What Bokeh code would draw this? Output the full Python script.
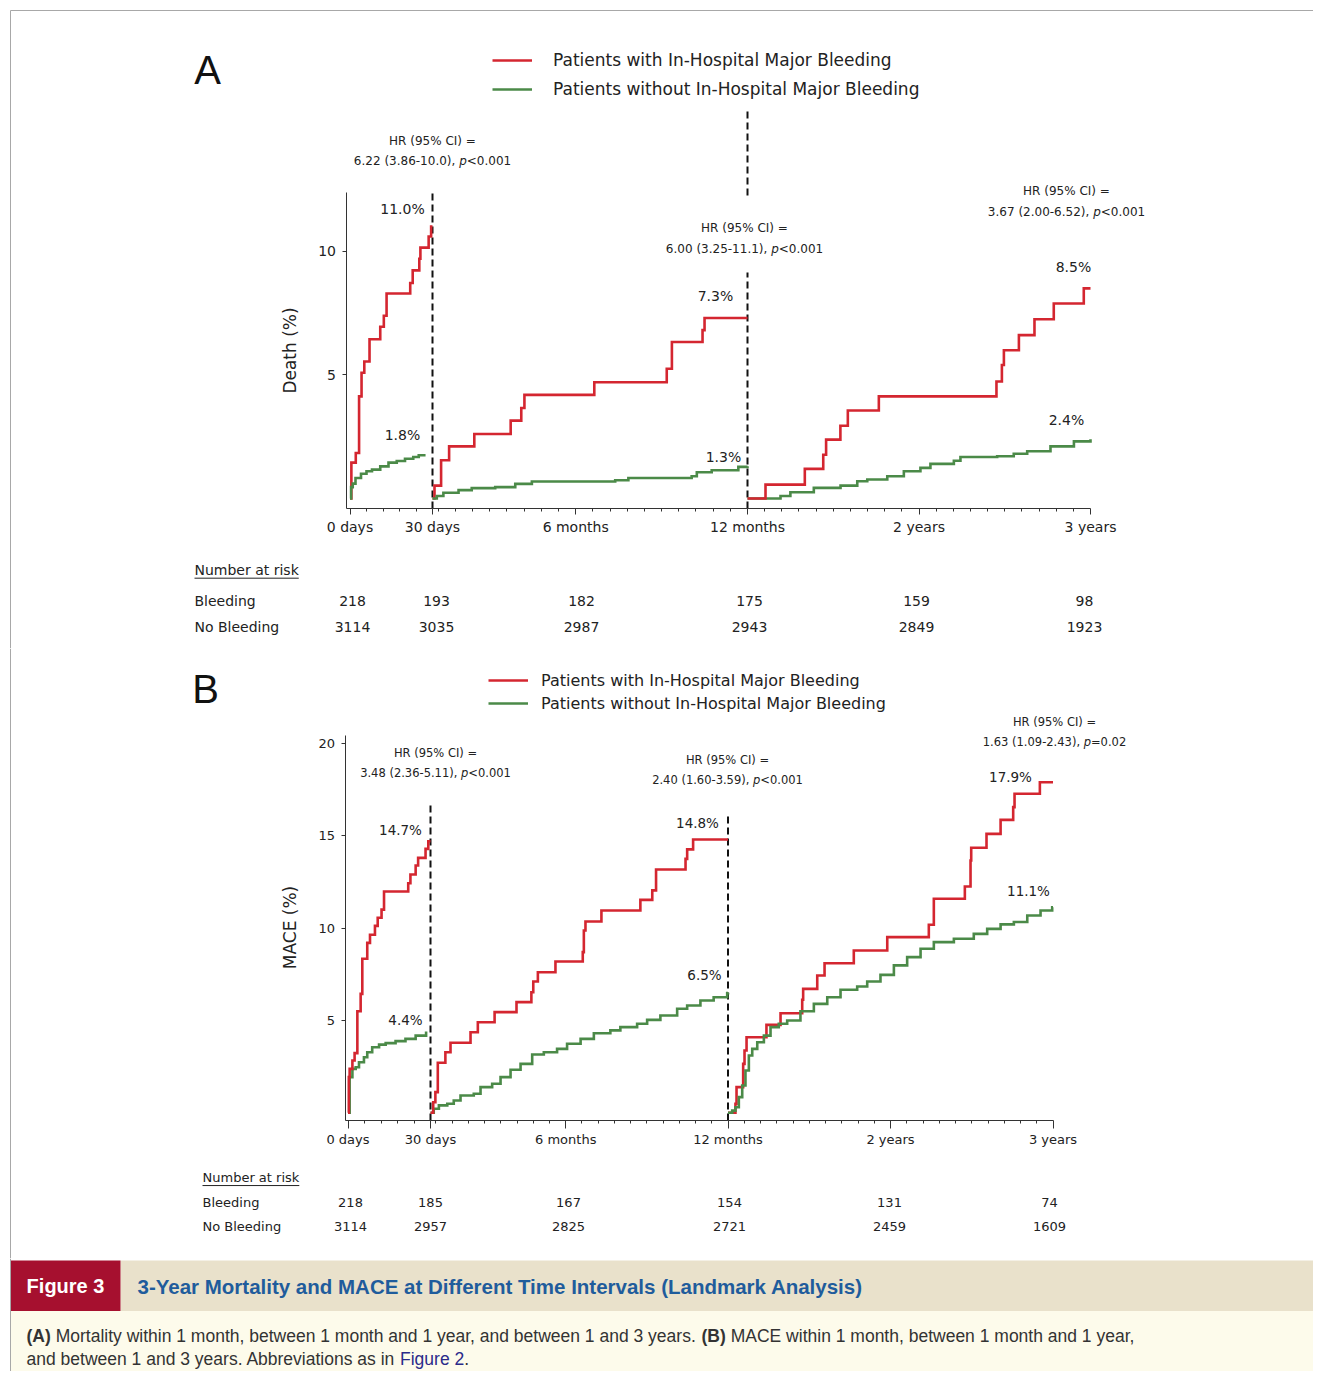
import math
from bokeh.plotting import figure
from bokeh.models import Range1d, LinearAxis, FixedTicker, Legend, LegendItem
from bokeh.layouts import column
from bokeh.embed import file_html
from bokeh.resources import INLINE
from bokeh.core.properties import value

# ---------------- data (cumulative event rate, %) ----------------
# Panel A: death
A_bleed_0_30_days = [0, 0.5, 2.1, 3.3, 4.2, 5.2, 7.1, 11.0, 12.3, 13.3, 21.9, 22.8, 25.2, 25.6, 28.6, 29.5, 30]
A_bleed_0_30_pct = [0, 1.45, 1.84, 4.13, 5.09, 5.54, 6.44, 6.95, 7.39, 8.29, 8.72, 9.23, 9.70, 10.15, 10.6, 11.0, 11.0]
A_nobleed_0_30_days = [0, 0.4, 1, 2, 4, 6, 8, 11, 14, 17, 20, 23, 25, 27]
A_nobleed_0_30_pct = [0, 0.46, 0.6, 0.83, 1.0, 1.1, 1.17, 1.3, 1.45, 1.52, 1.61, 1.68, 1.75, 1.8]

A_bleed_1_12_mo = [1, 1.07, 1.30, 1.58, 2.46, 3.73, 4.10, 4.21, 6.65, 9.18, 9.36, 10.43, 10.50, 12]
A_bleed_1_12_pct = [0, 0.52, 1.55, 2.11, 2.61, 3.15, 3.66, 4.19, 4.70, 5.25, 6.33, 6.81, 7.3, 7.3]
A_nobleed_1_12_mo = [1, 1.15, 1.38, 1.91, 2.37, 3.19, 3.89, 4.47, 7.38, 7.84, 10.05, 10.23, 10.75, 11.68, 12]
A_nobleed_1_12_pct = [0, 0.1, 0.23, 0.34, 0.42, 0.46, 0.59, 0.69, 0.74, 0.83, 0.9, 1.06, 1.14, 1.28, 1.3]

A_bleed_12_36_mo = [12, 13.26, 16.01, 17.3, 17.5, 18.5, 19.02, 21.19, 29.42, 29.8, 29.94, 30.99, 32.08, 33.43, 35.53, 36]
A_bleed_12_36_pct = [0, 0.56, 1.2, 1.77, 2.38, 2.94, 3.56, 4.13, 4.73, 5.4, 6.0, 6.61, 7.25, 7.89, 8.5, 8.5]
A_nobleed_12_36_mo = [12, 14.31, 15.0, 16.64, 18.51, 19.68, 20.38, 21.78, 22.94, 24.1, 24.8, 26.44, 26.9, 29.47, 30.63, 31.57, 33.2, 34.84, 36]
A_nobleed_12_36_pct = [0, 0.1, 0.25, 0.43, 0.52, 0.70, 0.77, 0.90, 1.1, 1.24, 1.4, 1.53, 1.68, 1.71, 1.81, 1.91, 2.11, 2.31, 2.4]

# Panel B: MACE
B_bleed_0_30_days = [0, 0.3, 0.6, 1.6, 2.4, 3.4, 4.6, 5.2, 7.0, 8.0, 9.8, 10.8, 12.2, 13.1, 21.9, 22.7, 24.6, 25.5, 28.2, 29.2, 30]
B_bleed_0_30_pct = [0, 1.93, 2.38, 2.83, 3.23, 5.5, 6.44, 8.34, 9.2, 9.64, 10.12, 10.56, 11.0, 11.98, 12.43, 12.9, 13.39, 13.8, 14.29, 14.7, 14.7]
B_nobleed_0_30_days = [0, 0.6, 1.6, 2.8, 4.0, 5.8, 7.0, 8.8, 11.3, 13.7, 17.3, 20.9, 24.6, 28.4]
B_nobleed_0_30_pct = [0, 1.93, 2.38, 2.47, 2.74, 3.01, 3.28, 3.55, 3.69, 3.77, 3.88, 4.0, 4.18, 4.4]

B_bleed_1_12_mo = [1, 1.10, 1.18, 1.27, 1.55, 1.74, 2.48, 2.75, 3.37, 4.18, 4.73, 4.80, 4.97, 5.62, 6.63, 6.67, 6.73, 7.32, 8.76, 9.2, 9.34, 10.43, 10.49, 10.71, 12]
B_bleed_1_12_pct = [0, 0.57, 1.12, 2.71, 3.28, 3.79, 4.36, 4.9, 5.45, 5.99, 6.53, 7.11, 7.61, 8.19, 8.7, 9.87, 10.36, 10.95, 11.53, 12.04, 13.17, 13.75, 14.26, 14.8, 14.8]
B_nobleed_1_12_mo = [1, 1.12, 1.31, 1.62, 1.86, 2.11, 2.60, 2.85, 3.28, 3.59, 3.96, 4.33, 4.76, 5.19, 5.68, 6.05, 6.55, 7.04, 7.65, 8.02, 8.64, 9.01, 9.50, 10.12, 10.49, 10.98, 11.47, 11.97, 12]
B_nobleed_1_12_pct = [0, 0.22, 0.4, 0.49, 0.67, 0.94, 1.03, 1.39, 1.57, 1.93, 2.33, 2.65, 3.16, 3.28, 3.46, 3.74, 4.0, 4.31, 4.46, 4.64, 4.82, 5.03, 5.27, 5.63, 5.81, 6.08, 6.26, 6.48, 6.5]

B_bleed_12_36_mo = [12, 12.55, 12.63, 13.12, 13.22, 13.37, 14.84, 15.88, 17.48, 17.55, 18.59, 19.13, 21.29, 23.76, 26.83, 27.2, 29.49, 29.91, 29.96, 31.09, 32.13, 33.06, 33.16, 35.03, 36]
B_bleed_12_36_pct = [0, 0.49, 1.39, 2.65, 3.37, 4.09, 4.76, 5.39, 6.12, 6.71, 7.43, 8.1, 8.79, 9.51, 10.18, 11.59, 12.25, 13.66, 14.35, 15.1, 15.86, 16.55, 17.27, 17.9, 17.9]
B_nobleed_12_36_mo = [12, 12.31, 12.55, 12.8, 13.05, 13.29, 13.54, 13.79, 14.16, 14.65, 15.14, 15.75, 16.37, 17.35, 18.34, 19.33, 20.31, 21.54, 22.28, 23.26, 24.25, 25.23, 26.22, 27.2, 28.68, 30.15, 31.14, 32.13, 33.11, 34.1, 35.08, 35.94, 36]
B_nobleed_12_36_pct = [0, 0.12, 0.3, 0.85, 1.48, 2.29, 3.1, 3.46, 3.82, 4.18, 4.64, 4.82, 5.0, 5.5, 5.9, 6.26, 6.66, 6.84, 7.11, 7.47, 7.98, 8.43, 8.88, 9.24, 9.42, 9.69, 9.96, 10.2, 10.33, 10.68, 10.95, 11.13, 11.13]

# Number at risk
RISK_LABELS = ["Bleeding", "No Bleeding"]
A_risk_bleed = [218, 193, 182, 175, 159, 98]
A_risk_nobleed = [3114, 3035, 2987, 2943, 2849, 1923]
B_risk_bleed = [218, 185, 167, 154, 131, 74]
B_risk_nobleed = [3114, 2957, 2825, 2721, 2459, 1609]

# Hazard ratios per interval
A_hr = ["6.22 (3.86-10.0)", "6.00 (3.25-11.1)", "3.67 (2.00-6.52)"]
A_p = ["<0.001", "<0.001", "<0.001"]
B_hr = ["3.48 (2.36-5.11)", "2.40 (1.60-3.59)", "1.63 (1.09-2.43)"]
B_p = ["<0.001", "<0.001", "=0.02"]

# End-of-interval labels
A_end_labels = ["11.0%", "1.8%", "7.3%", "1.3%", "8.5%", "2.4%"]
B_end_labels = ["14.7%", "4.4%", "14.8%", "6.5%", "17.9%", "11.1%"]

LEG_BLEED = "Patients with In-Hospital Major Bleeding"
LEG_NOBLEED = "Patients without In-Hospital Major Bleeding"

# ---------------- style ----------------
RED = "#d42630"
GREEN = "#4b8a48"
TXT = "#222222"
AX = "#333333"
DV = "DejaVu Sans"
LS = "Liberation Sans"
OFF = 0
W = 1313
HA, HB, HC = 648, 610, 113

DV_W = {"0": .636, "1": .636, "2": .636, "3": .636, "4": .636, "5": .636, "6": .636, "7": .636,
        "8": .636, "9": .636, ".": .318, ",": .318, " ": .318, "(": .390, ")": .390, "-": .361,
        "<": .838, "=": .838, "p": .635}


def dv_width(s, size):
    return sum(DV_W.get(c, 0.6) for c in s) * size


AR = {" ": 278, "(": 333, ")": 333, ",": 278, "-": 333, ".": 278, "A": 667, "B": 667, "C": 722,
      "D": 722, "E": 667, "F": 611, "G": 778, "H": 722, "I": 278, "M": 833, "N": 722, "O": 778,
      "P": 667, "R": 722, "S": 667, "T": 611, "a": 556, "b": 556, "c": 500, "d": 556, "e": 556,
      "f": 278, "g": 556, "h": 556, "i": 222, "j": 222, "k": 500, "l": 222, "m": 833, "n": 556,
      "o": 556, "p": 556, "q": 556, "r": 333, "s": 500, "t": 278, "u": 556, "v": 500, "w": 722,
      "x": 500, "y": 500, "z": 500}
ARB = {"(": 333, ")": 333, "A": 722, "B": 722, " ": 278}


def ar_width(s, size, bold=False):
    tot = 0
    for c in s:
        if c.isdigit():
            tot += 556
        elif bold and c in ARB:
            tot += ARB[c]
        else:
            tot += AR.get(c, 556)
    return tot / 1000.0 * size


SEG2_MINOR = [round(12 - 0.6 * k, 2) for k in range(1, 19) if k != 10]
SEG3_MINOR = [round(12 + 1.2 * k, 2) for k in range(1, 20) if k != 10]


def build_panel(cfg, curves, letter, ylabel, hr, pv, hr_pos, end_labels, end_pos,
                risk, risk_x, risk_Y, nar_pos, legend_cfg):
    Y0, ppu, top, h = cfg["Y0"], cfg["ppu"], cfg["top"], cfg["h"]
    X0, X1, X12, X36 = cfg["X0"], cfg["X1"], cfg["X12"], cfg["X36"]

    def yv(Y):
        return (Y0 - Y) / ppu

    p = figure(width=W, height=h, output_backend="svg", toolbar_location=None,
               x_range=Range1d(OFF, OFF + W), y_range=Range1d(yv(top + h), yv(top)),
               x_axis_type=None, y_axis_type=None, min_border=0,
               outline_line_color=None, background_fill_color="white",
               border_fill_color="white")

    def lin(xa, va, xb, vb):
        k = (vb - va) / (xb - xa)
        return Range1d(start=va + (OFF - xa) * k, end=va + (OFF + W - xa) * k)

    p.extra_x_ranges = {"days": lin(X0, 0, X1, 30), "m1": lin(X1, 1, X12, 12),
                        "m2": lin(X12, 12, X36, 36)}

    fs = cfg["fs"]
    st = dict(axis_line_color=AX, major_tick_line_color=AX, minor_tick_line_color=AX,
              major_tick_in=0, major_tick_out=cfg["tick_out"], minor_tick_in=0, minor_tick_out=3,
              major_label_text_font=DV, major_label_text_font_size=f"{fs}px",
              major_label_text_color=TXT, major_label_standoff=4)
    loc = yv(cfg["axY"])
    d_left = (cfg["yx"] - X0) * 30 / (X1 - X0)
    p.add_layout(LinearAxis(x_range_name="days", fixed_location=loc, bounds=(d_left, 30),
                            ticker=FixedTicker(ticks=[0, 30], minor_ticks=[6, 12, 18, 24]),
                            major_label_overrides={0: "0 days", 30: "30 days"}, **st), "below")
    p.add_layout(LinearAxis(x_range_name="m1", fixed_location=loc, bounds=(1, 12),
                            ticker=FixedTicker(ticks=[6], minor_ticks=SEG2_MINOR),
                            major_label_overrides={6: "6 months"}, **st), "below")
    p.add_layout(LinearAxis(x_range_name="m2", fixed_location=loc, bounds=(12, 36),
                            ticker=FixedTicker(ticks=[12, 24, 36], minor_ticks=SEG3_MINOR),
                            major_label_overrides={12: "12 months", 24: "2 years", 36: "3 years"},
                            **st), "below")
    sty = dict(st)
    sty.update(major_tick_out=4, major_label_standoff=6)
    p.add_layout(LinearAxis(fixed_location=cfg["yx"], bounds=(loc, yv(cfg["ytopY"])),
                            ticker=FixedTicker(ticks=cfg["yticks"]), **sty), "left")

    # border lines of the figure page
    p.segment(x0=[10, 10], y0=[yv(10), yv(max(top, 10))], x1=[1329, 10], y1=[yv(10), yv(top + h)],
              line_color="#a8a8a8", line_width=1)

    # landmark dashed lines
    for rng, xv, pieces in cfg["dash"]:
        p.segment(x0=[xv] * len(pieces), x1=[xv] * len(pieces),
                  y0=[yv(a) for a, b in pieces], y1=[yv(b) for a, b in pieces],
                  x_range_name=rng, line_color="#111111", line_width=2, line_dash="7 4")

    # curves
    rr, rg = None, None
    for rng, xs, ys, col in curves:
        r = p.step(x=xs, y=ys, mode="after", x_range_name=rng, line_color=col,
                   line_width=2.6, line_join="miter")
        if col == RED and rr is None:
            rr = r
        if col == GREEN and rg is None:
            rg = r

    # legend
    lx, ly, lfs, gh, sp, stoff = legend_cfg
    leg = Legend(items=[LegendItem(label=LEG_BLEED, renderers=[rr]),
                        LegendItem(label=LEG_NOBLEED, renderers=[rg])],
                 location=(lx, ly), orientation="vertical", glyph_width=40, glyph_height=gh,
                 spacing=sp, label_standoff=stoff, padding=0, margin=0,
                 border_line_color=None, background_fill_alpha=0,
                 label_text_font=DV, label_text_font_size=f"{lfs}px", label_text_color=TXT,
                 label_height=gh)
    p.add_layout(leg)

    # panel letter and y label
    p.text(x=[letter[1]], y=[yv(letter[2])], text=[letter[0]], text_font=value(LS),
           text_font_size="40px", text_color="#111111", text_align="center",
           text_baseline="middle")
    p.text(x=[ylabel[1]], y=[yv(ylabel[2])], text=[ylabel[0]], angle=math.pi / 2,
           text_font=value(DV), text_font_size="17px", text_color=TXT, text_align="center",
           text_baseline="middle")

    # HR annotations
    hs = cfg["hr_fs"]
    for (cx, Y1, Y2), main, pval in zip(hr_pos, hr, pv):
        p.text(x=[cx], y=[yv(Y1)], text=["HR (95% CI) ="], text_font=value(DV),
               text_font_size=f"{hs}px", text_color=TXT, text_align="center",
               text_baseline="middle")
        pre = main + ","
        wp = dv_width(pre + " ", hs)
        wi = dv_width("p", hs)
        wt = dv_width(pval, hs)
        left = cx - (wp + wi + wt) / 2
        for xx, tt, style in [(left, pre, "normal"), (left + wp, "p", "italic"),
                              (left + wp + wi, pval, "normal")]:
            p.text(x=[xx], y=[yv(Y2)], text=[tt], text_font=value(DV),
                   text_font_size=f"{hs}px", text_font_style=style, text_color=TXT,
                   text_align="left", text_baseline="middle")

    # end-of-interval percentages
    p.text(x=[a for a, b in end_pos], y=[yv(b) for a, b in end_pos], text=end_labels,
           text_font=value(DV), text_font_size=f"{cfg['pct_fs']}px", text_color=TXT,
           text_align="center", text_baseline="middle")

    # number at risk table
    nx, nY = nar_pos
    p.text(x=[nx], y=[yv(nY)], text=["Number at risk"], text_font=value(DV),
           text_font_size=f"{fs}px", text_color=TXT, text_align="left", text_baseline="middle")
    nw = (0.748 + 0.634 + 0.974 + 0.635 + 0.615 + 0.411 + 0.318 + 0.613 + 0.392 + 0.318 +
          0.411 + 0.278 + 0.521 + 0.579) * fs
    p.segment(x0=[nx], x1=[nx + nw], y0=[yv(nY + fs * 0.62)], y1=[yv(nY + fs * 0.62)],
              line_color=TXT, line_width=1)
    p.text(x=[nx, nx], y=[yv(risk_Y[0]), yv(risk_Y[1])], text=RISK_LABELS,
           text_font=value(DV), text_font_size=f"{fs}px", text_color=TXT,
           text_align="left", text_baseline="middle")
    for row, Yr in zip(risk, risk_Y):
        p.text(x=risk_x, y=[yv(Yr)] * len(row), text=[str(v) for v in row],
               text_font=value(DV), text_font_size=f"{fs}px", text_color=TXT,
               text_align="center", text_baseline="middle")
    return p


PA = dict(top=OFF, h=HA, Y0=498.0, ppu=24.72, X0=349.5, X1=432.0, X12=747.0, X36=1090.0,
          yx=345.5, axY=508.0, ytopY=192.0, yticks=[5, 10], tick_out=6, fs=14, hr_fs=12,
          pct_fs=14,
          dash=[("days", 30, [(508, 192)]), ("m1", 12, [(508, 272), (195, 107)])])
PB = dict(top=OFF + HA, h=HB, Y0=1112.3, ppu=18.47, X0=347.5, X1=430.0, X12=727.5, X36=1052.5,
          yx=344.5, axY=1119.5, ytopY=735.0, yticks=[5, 10, 15, 20], tick_out=8, fs=13,
          hr_fs=11.5, pct_fs=13.5,
          dash=[("days", 30, [(1120, 801)]), ("m1", 12, [(1120, 816)])])

curvesA = [("days", A_bleed_0_30_days, A_bleed_0_30_pct, RED),
           ("days", A_nobleed_0_30_days, A_nobleed_0_30_pct, GREEN),
           ("m1", A_bleed_1_12_mo, A_bleed_1_12_pct, RED),
           ("m1", A_nobleed_1_12_mo, A_nobleed_1_12_pct, GREEN),
           ("m2", A_nobleed_12_36_mo, A_nobleed_12_36_pct, GREEN),
           ("m2", A_bleed_12_36_mo, A_bleed_12_36_pct, RED)]
curvesB = [("days", B_nobleed_0_30_days, B_nobleed_0_30_pct, GREEN),
           ("days", B_bleed_0_30_days, B_bleed_0_30_pct, RED),
           ("m1", B_nobleed_1_12_mo, B_nobleed_1_12_pct, GREEN),
           ("m1", B_bleed_1_12_mo, B_bleed_1_12_pct, RED),
           ("m2", B_bleed_12_36_mo, B_bleed_12_36_pct, RED),
           ("m2", B_nobleed_12_36_mo, B_nobleed_12_36_pct, GREEN)]

pA = build_panel(PA, curvesA, ("A", 207, 69), ("Death (%)", 289, 350), A_hr, A_p,
                 [(432, 140, 160), (744, 227, 248), (1066, 190, 211)],
                 A_end_labels, [(402, 208), (402, 434), (715, 295), (723, 456), (1073, 266), (1066, 419)],
                 [A_risk_bleed, A_risk_nobleed], [352, 436, 581, 749, 916, 1084], [600, 626],
                 (194, 569), (492 - OFF, HA - (101 - OFF), 17, 24, 5, 21))
pB = build_panel(PB, curvesB, ("B", 205, 688), ("MACE (%)", 289, 927), B_hr, B_p,
                 [(435, 752, 772), (727, 759, 779), (1054, 721, 741)],
                 B_end_labels, [(400, 829), (405, 1019), (697, 822), (704, 974), (1010, 776), (1028, 890)],
                 [B_risk_bleed, B_risk_nobleed], [350, 430, 568, 729, 889, 1049], [1202, 1226],
                 (202, 1177), (488 - OFF, HB - (713 - (OFF + HA)), 16, 20, 3, 13))

# ---------------- caption ----------------
ctop = OFF + HA + HB
pc = figure(width=W, height=HC, output_backend="svg", toolbar_location=None,
            x_range=Range1d(OFF, OFF + W), y_range=Range1d(ctop + HC, ctop),
            x_axis_type=None, y_axis_type=None, min_border=0, outline_line_color=None,
            background_fill_color="white", border_fill_color="white")
pc.quad(left=[10], right=[1340], top=[1310], bottom=[1400], fill_color="#fdfbeb", line_color=None)
pc.quad(left=[120], right=[1340], top=[1260], bottom=[1310.5], fill_color="#e9e1cb", line_color=None)
pc.quad(left=[10], right=[120], top=[1260], bottom=[1310.5], fill_color="#a6102f", line_color=None)
pc.segment(x0=[10], x1=[10], y0=[ctop], y1=[1400], line_color="#a8a8a8", line_width=1)
pc.text(x=[65], y=[1285.5], text=["Figure 3"], text_font=value(LS), text_font_size="20px",
        text_font_style="bold", text_color="white", text_align="center", text_baseline="middle")
pc.text(x=[137], y=[1285.5],
        text=["3-Year Mortality and MACE at Different Time Intervals (Landmark Analysis)"],
        text_font=value(LS), text_font_size="20.5px", text_font_style="bold",
        text_color="#1f5c9c", text_align="left", text_baseline="middle")


def runs_line(p, x, Y, runs, size):
    for txt, bold, col in runs:
        lead = len(txt) - len(txt.lstrip(" "))
        x += ar_width(" " * lead, size)
        core = txt.strip(" ")
        p.text(x=[x], y=[Y], text=[core], text_font=value(LS), text_font_size=f"{size}px",
               text_font_style="bold" if bold else "normal", text_color=col,
               text_align="left", text_baseline="middle")
        x += ar_width(core, size, bold)
        trail = len(txt) - len(txt.rstrip(" "))
        x += ar_width(" " * trail, size)


CAP = "#333333"
runs_line(pc, 26, 1335.5, [("(A)", True, CAP),
                           (" Mortality within 1 month, between 1 month and 1 year, and between 1 and 3 years. ", False, CAP),
                           ("(B)", True, CAP),
                           (" MACE within 1 month, between 1 month and 1 year,", False, CAP)], 17.5)
runs_line(pc, 26, 1358, [("and between 1 and 3 years. Abbreviations as in ", False, CAP),
                         ("Figure 2", False, "#2a2a8a"), (".", False, CAP)], 17.5)

page = column(pA, pB, pc, spacing=0)
open("out.html", "w").write(file_html(page, INLINE))
